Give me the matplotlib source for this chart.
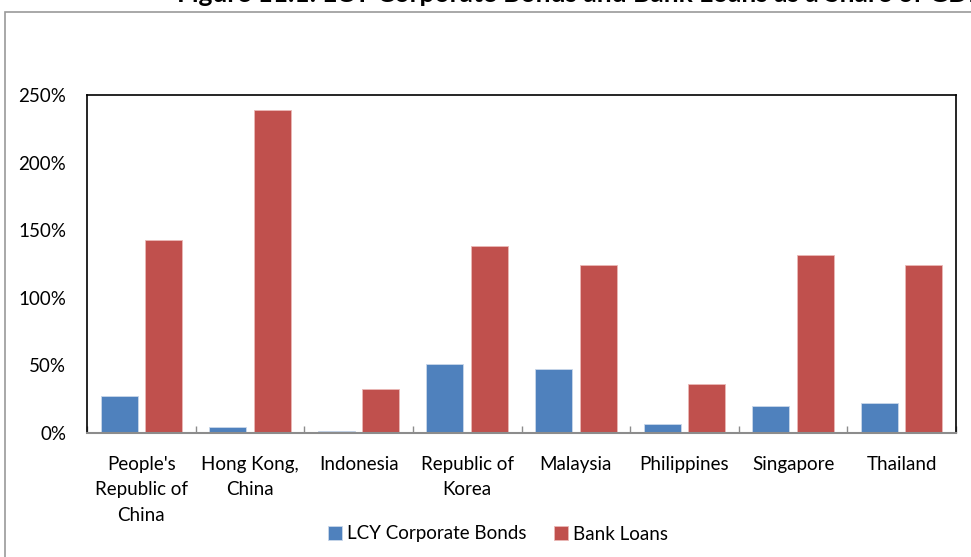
import matplotlib
matplotlib.use("Agg")
import matplotlib.pyplot as plt
import numpy as np
from matplotlib.patches import Rectangle

plt.rcParams['font.family'] = ['Lato', 'DejaVu Sans']

categories = ["People's\nRepublic of\nChina", "Hong Kong,\nChina", "Indonesia",
              "Republic of\nKorea", "Malaysia", "Philippines", "Singapore", "Thailand"]
corporate_bonds = [27, 4.5, 1.8, 51, 47, 7, 20, 22]
bank_loans = [143, 239, 32.5, 138, 124, 36, 131.5, 124.5]
y_ticks = [0, 50, 100, 150, 200, 250]
y_tick_labels = ["0%", "50%", "100%", "150%", "200%", "250%"]
series_names = ["LCY Corporate Bonds", "Bank Loans"]
title = "Figure 11.1: LCY Corporate Bonds and Bank Loans as a Share of GDP"

W, H = 971, 557
fig = plt.figure(figsize=(W / 100, H / 100), dpi=100)

# outer chart-area frame
fig.patches.append(Rectangle((5 / W, -0.05), 1.1, 1 - 12 / H + 0.05,
                             transform=fig.transFigure, fill=False,
                             edgecolor='#9a9a9a', linewidth=1.2))

fig.text(177 / W, 1 - 2.5 / H, title, ha='left', va='baseline',
         fontsize=19, fontweight='bold', color='black')

ax = fig.add_axes([87 / W, 1 - 433 / H, (956 - 87) / W, (433 - 95) / H])

x = np.arange(len(categories))
bw = 0.34
off = 0.205
ax.bar(x - off, corporate_bonds, bw, color='#4F81BD', edgecolor='#c9d7ea',
       linewidth=0.6, label=series_names[0], zorder=2)
ax.bar(x + off, bank_loans, bw, color='#C0504D', edgecolor='#eab8b6',
       linewidth=0.6, label=series_names[1], zorder=2)

ax.set_xlim(-0.5, len(categories) - 0.5)
ax.set_ylim(0, 250)
ax.set_yticks(y_ticks)
ax.set_yticklabels(y_tick_labels, fontsize=13.5)
ax.tick_params(axis='y', length=0, pad=15)

ax.set_xticks(x)
ax.set_xticklabels(categories, fontsize=13.5, linespacing=1.6)
ax.tick_params(axis='x', length=0, pad=16.5)
ax.set_xticks(np.arange(len(categories) + 1) - 0.5, minor=True)
ax.tick_params(axis='x', which='minor', direction='in', length=5,
               color='#8c8c8c', width=1)

for s in ['left', 'top', 'right']:
    ax.spines[s].set_color('black')
    ax.spines[s].set_linewidth(1.2)
ax.spines['bottom'].set_color('#8c8c8c')
ax.spines['bottom'].set_linewidth(1.5)

handles, labels = ax.get_legend_handles_labels()
fig.legend(handles, labels, loc='center', bbox_to_anchor=(498 / W, 1 - 534 / H),
           ncol=2, frameon=False, fontsize=13.5, handlelength=0.75,
           handleheight=0.75, handletextpad=0.25, columnspacing=1.45)

fig.savefig("out.png", dpi=100)
